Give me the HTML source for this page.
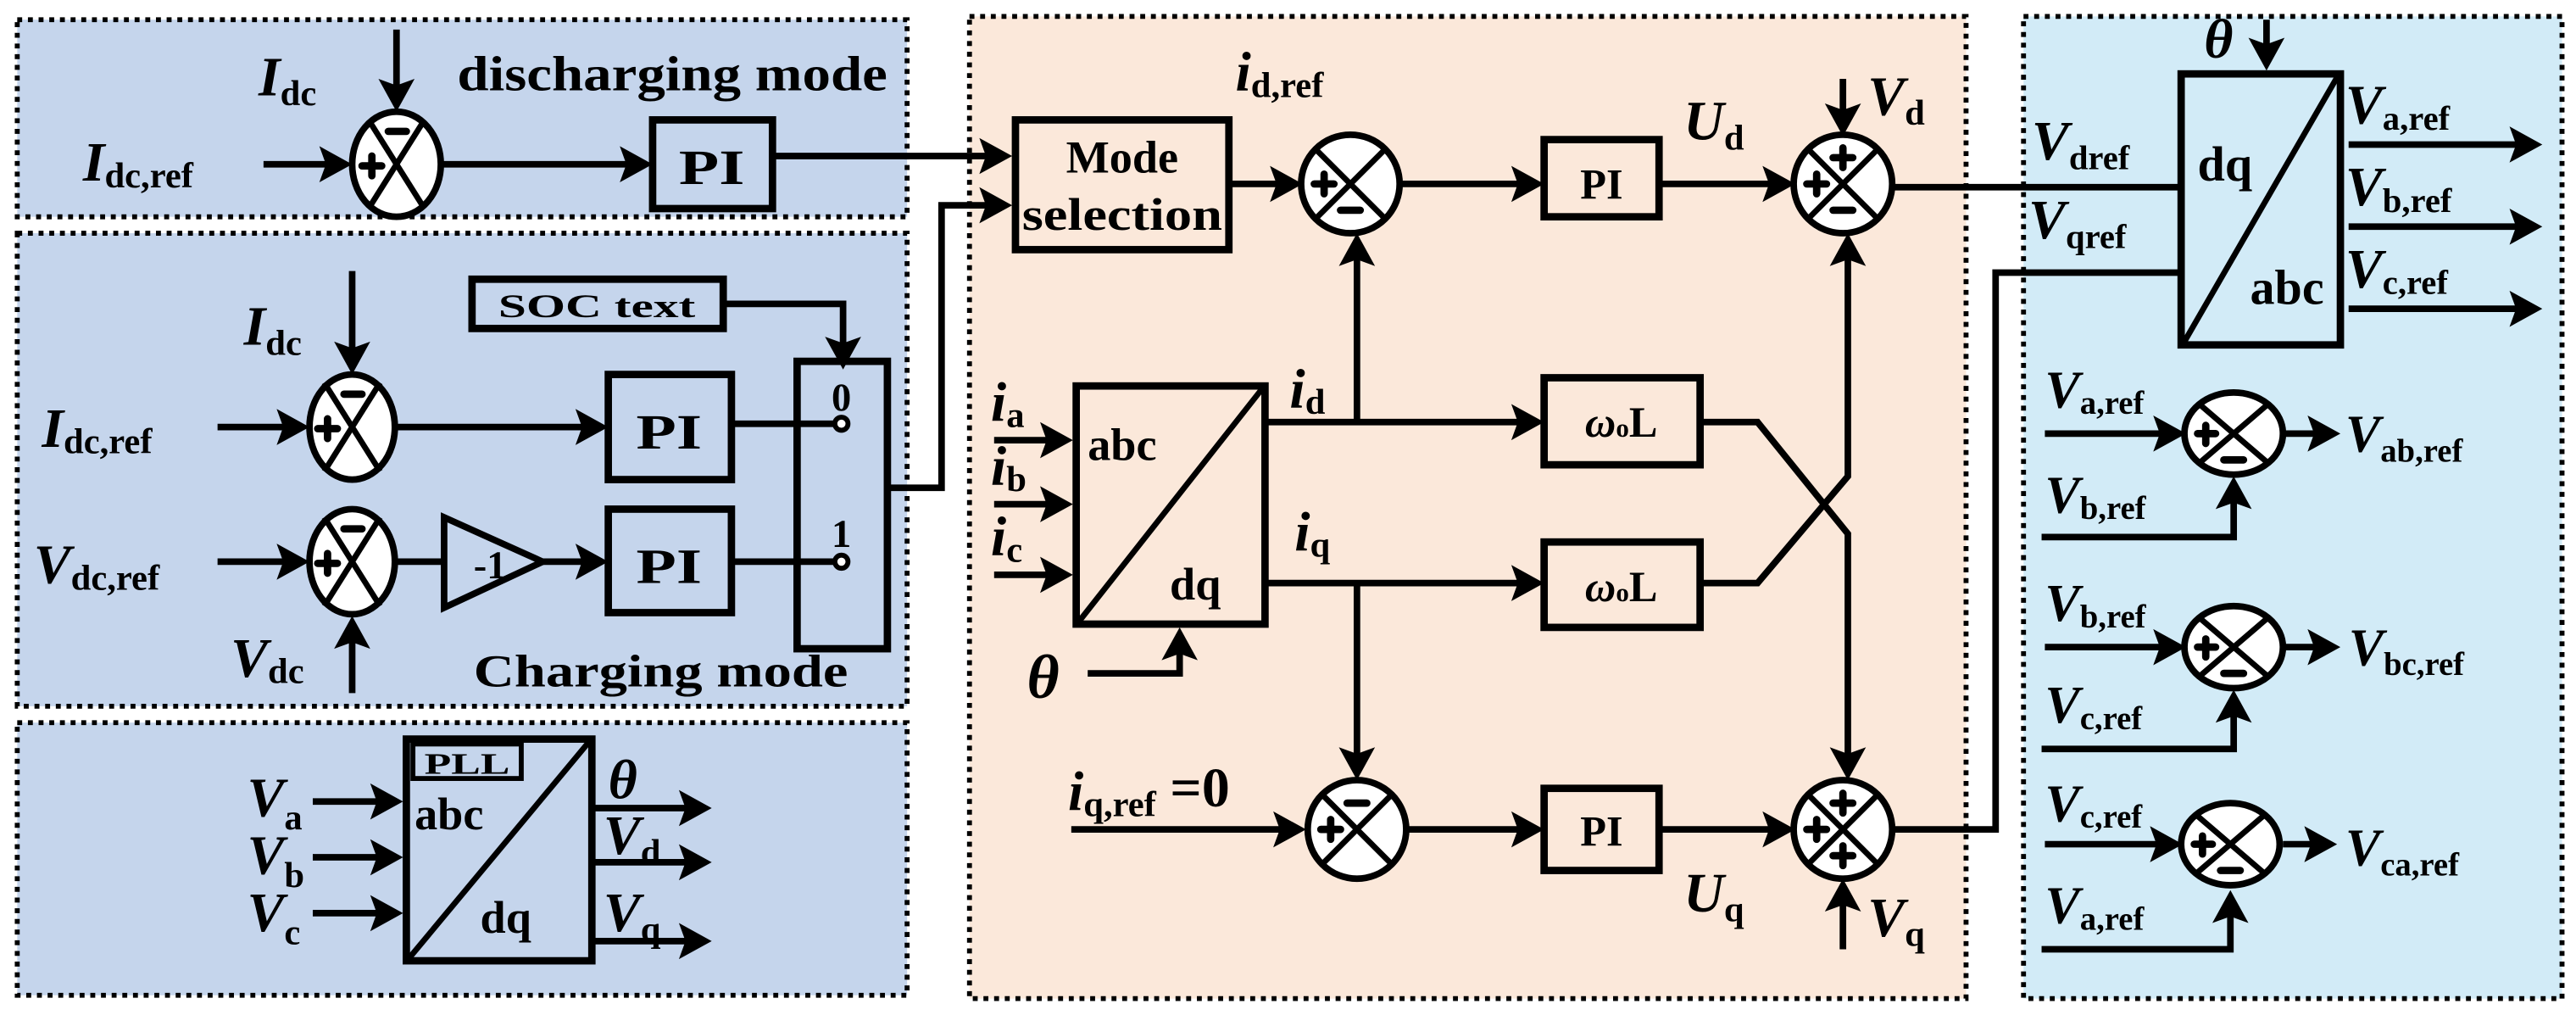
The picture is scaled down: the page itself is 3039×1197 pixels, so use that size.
<!DOCTYPE html>
<html><head><meta charset="utf-8"><style>
html,body{margin:0;padding:0;background:#fff}
svg{display:block}
text{font-family:"Liberation Serif","Times New Roman","Nimbus Roman",serif;font-weight:bold;fill:#000}
.i{font-style:italic}
</style></head><body>
<svg width="3039" height="1197" viewBox="0 0 1568 618" xmlns="http://www.w3.org/2000/svg">
<style>
.ln{stroke:#000;stroke-width:4;fill:none}
.bx{stroke:#000;stroke-width:4.5;fill:none}
.pn{stroke:#000;stroke-width:3;stroke-dasharray:3 3.5}
.sg{stroke:#000;stroke-width:4.5;fill:none;stroke-linecap:round}
</style>
<!-- panels -->
<rect x="10" y="12" width="542" height="120" fill="#c5d5ec" class="pn"/>
<rect x="10" y="142" width="542" height="288" fill="#c5d5ec" class="pn"/>
<rect x="10" y="440" width="542" height="166" fill="#c5d5ec" class="pn"/>
<rect x="590" y="10" width="607" height="598" fill="#fbe8da" class="pn"/>
<rect x="1232" y="10" width="328" height="598" fill="#d2ebf7" class="pn"/>

<!-- ===== Panel 1 ===== -->
<text x="50" y="110" font-size="34" class="i">I<tspan font-style="normal" font-size="22" dy="4">dc,ref</tspan></text>
<line x1="160" y1="100" x2="200" y2="100" class="ln"/><polygon points="214,100 194,89 198,100 194,111"/>
<text x="157" y="58" font-size="34" class="i">I<tspan font-style="normal" font-size="22" dy="6">dc</tspan></text>
<line x1="241" y1="18" x2="241" y2="55" class="ln"/><polygon points="241,68 230,48 241,52 252,48"/>
<text x="278" y="55" font-size="30" textLength="262" lengthAdjust="spacingAndGlyphs">discharging mode</text>
<line x1="268" y1="100" x2="385" y2="100" class="ln"/><polygon points="397,100 377,89 381,100 377,111"/>
<rect x="397" y="73" width="73" height="54" fill="none" class="bx"/>
<text x="433" y="112" font-size="30" text-anchor="middle" textLength="40" lengthAdjust="spacingAndGlyphs">PI</text>
<line x1="470" y1="95" x2="604" y2="95" class="ln"/><polygon points="616,95 596,84 600,95 596,106"/>

<!-- ===== Panel 2 ===== -->
<text x="25" y="272" font-size="34" class="i">I<tspan font-style="normal" font-size="22" dy="4">dc,ref</tspan></text>
<line x1="132" y1="260" x2="175" y2="260" class="ln"/><polygon points="188,260 168,249 172,260 168,271"/>
<text x="148" y="210" font-size="34" class="i">I<tspan font-style="normal" font-size="22" dy="6">dc</tspan></text>
<line x1="214" y1="165" x2="214" y2="215" class="ln"/><polygon points="214,228 203,208 214,212 225,208"/>
<line x1="240" y1="260" x2="357" y2="260" class="ln"/><polygon points="370,260 350,249 354,260 350,271"/>
<rect x="370" y="228" width="75" height="64" fill="none" class="bx"/>
<text x="407" y="273" font-size="30" text-anchor="middle" textLength="40" lengthAdjust="spacingAndGlyphs">PI</text>
<rect x="287" y="170" width="153" height="30" fill="none" class="bx"/>
<text x="363" y="193" font-size="20" text-anchor="middle" textLength="120" lengthAdjust="spacingAndGlyphs">SOC text</text>
<polyline points="440,185 513,185 513,212" class="ln"/><polygon points="513,225 502,205 513,209 524,205"/>
<rect x="485" y="220" width="55" height="175" fill="none" class="bx"/>
<text x="512" y="250" font-size="24" text-anchor="middle">0</text>
<line x1="445" y1="258" x2="508" y2="258" class="ln"/><circle cx="512" cy="258" r="4" fill="#fff" stroke="#000" stroke-width="3"/>
<text x="512" y="333" font-size="24" text-anchor="middle">1</text>
<line x1="445" y1="342" x2="508" y2="342" class="ln"/><circle cx="512" cy="342" r="4" fill="#fff" stroke="#000" stroke-width="3"/>
<polyline points="540,297 573,297 573,125 604,125" class="ln"/><polygon points="616,125 596,114 600,125 596,136"/>

<text x="20" y="355" font-size="34" class="i">V<tspan font-style="normal" font-size="22" dy="4">dc,ref</tspan></text>
<line x1="132" y1="342" x2="175" y2="342" class="ln"/><polygon points="188,342 168,331 172,342 168,353"/>
<text x="140" y="412" font-size="34" class="i">V<tspan font-style="normal" font-size="22" dy="4">dc</tspan></text>
<line x1="214" y1="422" x2="214" y2="388" class="ln"/><polygon points="214,375 203,395 214,391 225,395"/>
<line x1="240" y1="342" x2="270" y2="342" class="ln"/>
<polygon points="270,315 270,370 330,342" fill="none" stroke="#000" stroke-width="4"/>
<text x="288" y="352" font-size="24">-1</text>
<line x1="330" y1="342" x2="357" y2="342" class="ln"/><polygon points="370,342 350,331 354,342 350,353"/>
<rect x="370" y="310" width="75" height="63" fill="none" class="bx"/>
<text x="407" y="355" font-size="30" text-anchor="middle" textLength="40" lengthAdjust="spacingAndGlyphs">PI</text>
<text x="288" y="418" font-size="28" textLength="228" lengthAdjust="spacingAndGlyphs">Charging mode</text>

<!-- ===== Panel 3 PLL ===== -->
<rect x="247" y="450" width="113" height="135" fill="none" class="bx"/>
<rect x="251" y="453" width="66" height="21" fill="none" stroke="#000" stroke-width="3"/>
<text x="284" y="471" font-size="18" text-anchor="middle" textLength="52" lengthAdjust="spacingAndGlyphs">PLL</text>
<line x1="249" y1="583" x2="358" y2="452" stroke="#000" stroke-width="3.5"/>
<text x="252" y="505" font-size="28">abc</text>
<text x="292" y="568" font-size="28">dq</text>
<text x="150" y="497" font-size="34" class="i">V<tspan font-style="normal" font-size="22" dy="8">a</tspan></text>
<text x="150" y="532" font-size="34" class="i">V<tspan font-style="normal" font-size="22" dy="8">b</tspan></text>
<text x="150" y="567" font-size="34" class="i">V<tspan font-style="normal" font-size="22" dy="8">c</tspan></text>
<line x1="190" y1="488" x2="233" y2="488" class="ln"/><polygon points="245,488 225,477 229,488 225,499"/>
<line x1="190" y1="522" x2="233" y2="522" class="ln"/><polygon points="245,522 225,511 229,522 225,533"/>
<line x1="190" y1="556" x2="233" y2="556" class="ln"/><polygon points="245,556 225,545 229,556 225,567"/>
<line x1="360" y1="492" x2="420" y2="492" class="ln"/><polygon points="433,492 413,481 417,492 413,503"/>
<line x1="360" y1="525" x2="420" y2="525" class="ln"/><polygon points="433,525 413,514 417,525 413,536"/>
<line x1="360" y1="573" x2="420" y2="573" class="ln"/><polygon points="433,573 413,562 417,573 413,584"/>
<text x="370" y="486" font-size="34" class="i">θ</text>
<text x="367" y="520" font-size="34" class="i">V<tspan font-style="normal" font-size="22" dy="6">d</tspan></text>
<text x="367" y="567" font-size="34" class="i">V<tspan font-style="normal" font-size="22" dy="6">q</tspan></text>

<!-- ===== Center panel ===== -->
<rect x="618" y="73" width="130" height="79" fill="none" class="bx"/>
<text x="683" y="105" font-size="28" text-anchor="middle">Mode</text>
<text x="683" y="140" font-size="28" text-anchor="middle" textLength="122" lengthAdjust="spacingAndGlyphs">selection</text>
<line x1="748" y1="112" x2="780" y2="112" class="ln"/><polygon points="793,112 773,101 777,112 773,123"/>
<text x="752" y="55" font-size="34" class="i">i<tspan font-style="normal" font-size="22" dy="4">d,ref</tspan></text>
<line x1="852" y1="112" x2="927" y2="112" class="ln"/><polygon points="940,112 920,101 924,112 920,123"/>
<rect x="940" y="85" width="70" height="47" fill="none" class="bx"/>
<text x="975" y="121" font-size="26" text-anchor="middle">PI</text>
<line x1="1010" y1="112" x2="1080" y2="112" class="ln"/><polygon points="1093,112 1073,101 1077,112 1073,123"/>
<text x="1025" y="85" font-size="34" class="i">U<tspan font-style="normal" font-size="22" dy="6">d</tspan></text>
<line x1="1122" y1="48" x2="1122" y2="70" class="ln"/><polygon points="1122,83 1111,63 1122,67 1133,63"/>
<text x="1137" y="70" font-size="34" class="i">V<tspan font-style="normal" font-size="22" dy="6">d</tspan></text>
<line x1="1152" y1="114" x2="1328" y2="114" class="ln"/>

<rect x="655" y="235" width="115" height="145" fill="none" class="bx"/>
<line x1="657" y1="378" x2="768" y2="237" stroke="#000" stroke-width="3.5"/>
<text x="662" y="280" font-size="28">abc</text>
<text x="712" y="365" font-size="28">dq</text>
<text x="603" y="256" font-size="34" class="i">i<tspan font-style="normal" font-size="22" dy="4">a</tspan></text>
<text x="603" y="295" font-size="34" class="i">i<tspan font-style="normal" font-size="22" dy="4">b</tspan></text>
<text x="603" y="338" font-size="34" class="i">i<tspan font-style="normal" font-size="22" dy="4">c</tspan></text>
<line x1="605" y1="268" x2="640" y2="268" class="ln"/><polygon points="653,268 633,257 637,268 633,279"/>
<line x1="605" y1="307" x2="640" y2="307" class="ln"/><polygon points="653,307 633,296 637,307 633,318"/>
<line x1="605" y1="350" x2="640" y2="350" class="ln"/><polygon points="653,350 633,339 637,350 633,361"/>
<text x="625" y="425" font-size="38" class="i">θ</text>
<polyline points="662,410 718,410 718,395" class="ln"/><polygon points="718,382 707,402 718,398 729,402"/>
<line x1="770" y1="257" x2="927" y2="257" class="ln"/><polygon points="940,257 920,246 924,257 920,268"/>
<text x="785" y="248" font-size="34" class="i">i<tspan font-style="normal" font-size="22" dy="4">d</tspan></text>
<line x1="826" y1="257" x2="826" y2="155" class="ln"/><polygon points="826,142 815,162 826,158 837,162"/>
<line x1="770" y1="355" x2="927" y2="355" class="ln"/><polygon points="940,355 920,344 924,355 920,366"/>
<text x="788" y="335" font-size="34" class="i">i<tspan font-style="normal" font-size="22" dy="4">q</tspan></text>
<line x1="826" y1="355" x2="826" y2="462" class="ln"/><polygon points="826,475 815,455 826,459 837,455"/>
<rect x="940" y="230" width="95" height="53" fill="none" class="bx"/>
<text x="987" y="266" font-size="26" text-anchor="middle"><tspan class="i">ω</tspan><tspan font-size="16">o</tspan>L</text>
<rect x="940" y="330" width="95" height="52" fill="none" class="bx"/>
<text x="987" y="366" font-size="26" text-anchor="middle"><tspan class="i">ω</tspan><tspan font-size="16">o</tspan>L</text>
<polyline points="1035,257 1070,257 1125,325 1125,462" class="ln"/><polygon points="1125,475 1114,455 1125,459 1136,455"/>
<polyline points="1035,355 1070,355 1125,290 1125,155" class="ln"/><polygon points="1125,142 1114,162 1125,158 1136,162"/>

<text x="650" y="493" font-size="34" class="i">i<tspan font-style="normal" font-size="22" dy="4">q,ref</tspan><tspan font-style="normal" font-size="34" dy="-6"> =0</tspan></text>
<line x1="652" y1="505" x2="782" y2="505" class="ln"/><polygon points="795,505 775,494 779,505 775,516"/>
<line x1="856" y1="505" x2="927" y2="505" class="ln"/><polygon points="940,505 920,494 924,505 920,516"/>
<rect x="940" y="480" width="70" height="50" fill="none" class="bx"/>
<text x="975" y="515" font-size="26" text-anchor="middle">PI</text>
<line x1="1010" y1="505" x2="1080" y2="505" class="ln"/><polygon points="1093,505 1073,494 1077,505 1073,516"/>
<text x="1025" y="555" font-size="34" class="i">U<tspan font-style="normal" font-size="22" dy="6">q</tspan></text>
<line x1="1122" y1="578" x2="1122" y2="548" class="ln"/><polygon points="1122,535 1111,555 1122,551 1133,555"/>
<text x="1137" y="570" font-size="34" class="i">V<tspan font-style="normal" font-size="22" dy="6">q</tspan></text>
<polyline points="1152,505 1215,505 1215,166 1328,166" class="ln"/>

<!-- ===== Right panel ===== -->
<rect x="1328" y="45" width="97" height="165" fill="none" class="bx"/>
<line x1="1330" y1="208" x2="1423" y2="47" stroke="#000" stroke-width="3.5"/>
<text x="1338" y="110" font-size="30">dq</text>
<text x="1370" y="185" font-size="30">abc</text>
<text x="1342" y="35" font-size="34" class="i">θ</text>
<line x1="1380" y1="12" x2="1380" y2="30" class="ln"/><polygon points="1380,43 1369,23 1380,27 1391,23"/>
<text x="1237" y="97" font-size="34" class="i">V<tspan font-style="normal" font-size="21" dy="6">dref</tspan></text>
<text x="1235" y="145" font-size="34" class="i">V<tspan font-style="normal" font-size="21" dy="6">qref</tspan></text>
<text x="1428" y="75" font-size="34" class="i">V<tspan font-style="normal" font-size="21" dy="4">a,ref</tspan></text>
<text x="1428" y="125" font-size="34" class="i">V<tspan font-style="normal" font-size="21" dy="4">b,ref</tspan></text>
<text x="1428" y="175" font-size="34" class="i">V<tspan font-style="normal" font-size="21" dy="4">c,ref</tspan></text>
<line x1="1430" y1="88" x2="1535" y2="88" class="ln"/><polygon points="1548,88 1528,77 1532,88 1528,99"/>
<line x1="1430" y1="138" x2="1535" y2="138" class="ln"/><polygon points="1548,138 1528,127 1532,138 1528,149"/>
<line x1="1430" y1="188" x2="1535" y2="188" class="ln"/><polygon points="1548,188 1528,177 1532,188 1528,199"/>

<g>
<text x="1245" y="248" font-size="32" class="i">V<tspan font-style="normal" font-size="20" dy="4">a,ref</tspan></text>
<line x1="1245" y1="264" x2="1318" y2="264" class="ln"/><polygon points="1331,264 1311,253 1315,264 1311,275"/>
<text x="1245" y="312" font-size="32" class="i">V<tspan font-style="normal" font-size="20" dy="4">b,ref</tspan></text>
<polyline points="1243,327 1360,327 1360,303" class="ln"/><polygon points="1360,290 1349,310 1360,306 1371,310"/>
<line x1="1390" y1="264" x2="1412" y2="264" class="ln"/><polygon points="1425,264 1405,253 1409,264 1405,275"/>
<text x="1428" y="275" font-size="32" class="i">V<tspan font-style="normal" font-size="20" dy="6">ab,ref</tspan></text>
</g>
<g>
<text x="1245" y="378" font-size="32" class="i">V<tspan font-style="normal" font-size="20" dy="4">b,ref</tspan></text>
<line x1="1245" y1="394" x2="1318" y2="394" class="ln"/><polygon points="1331,394 1311,383 1315,394 1311,405"/>
<text x="1245" y="440" font-size="32" class="i">V<tspan font-style="normal" font-size="20" dy="4">c,ref</tspan></text>
<polyline points="1243,456 1360,456 1360,433" class="ln"/><polygon points="1360,420 1349,440 1360,436 1371,440"/>
<line x1="1390" y1="394" x2="1412" y2="394" class="ln"/><polygon points="1425,394 1405,383 1409,394 1405,405"/>
<text x="1430" y="405" font-size="32" class="i">V<tspan font-style="normal" font-size="20" dy="6">bc,ref</tspan></text>
</g>
<g>
<text x="1245" y="500" font-size="32" class="i">V<tspan font-style="normal" font-size="20" dy="4">c,ref</tspan></text>
<line x1="1245" y1="514" x2="1316" y2="514" class="ln"/><polygon points="1329,514 1309,503 1313,514 1309,525"/>
<text x="1245" y="562" font-size="32" class="i">V<tspan font-style="normal" font-size="20" dy="4">a,ref</tspan></text>
<polyline points="1243,578 1358,578 1358,555" class="ln"/><polygon points="1358,542 1347,562 1358,558 1369,562"/>
<line x1="1390" y1="514" x2="1410" y2="514" class="ln"/><polygon points="1423,514 1403,503 1407,514 1403,525"/>
<text x="1428" y="527" font-size="32" class="i">V<tspan font-style="normal" font-size="20" dy="6">ca,ref</tspan></text>
</g>

<!-- summing junctions -->
<g stroke="#000" stroke-width="4" fill="#fff">
<ellipse cx="241" cy="100" rx="27" ry="32"/>
<ellipse cx="214" cy="260" rx="26" ry="32"/>
<ellipse cx="214" cy="342" rx="26" ry="32"/>
<ellipse cx="822" cy="112" rx="30" ry="30"/>
<ellipse cx="1122" cy="112" rx="30" ry="30"/>
<ellipse cx="826" cy="505" rx="30" ry="30"/>
<ellipse cx="1122" cy="505" rx="30" ry="30"/>
<ellipse cx="1360" cy="264" rx="30" ry="25"/>
<ellipse cx="1360" cy="394" rx="30" ry="25"/>
<ellipse cx="1358" cy="514" rx="30" ry="25"/>
</g>
<g stroke="#000" stroke-width="3.5">
<line x1="224" y1="73" x2="258" y2="127"/><line x1="258" y1="73" x2="224" y2="127"/>
<line x1="197" y1="233" x2="231" y2="287"/><line x1="231" y1="233" x2="197" y2="287"/>
<line x1="197" y1="315" x2="231" y2="369"/><line x1="231" y1="315" x2="197" y2="369"/>
<line x1="801" y1="91" x2="843" y2="133"/><line x1="843" y1="91" x2="801" y2="133"/>
<line x1="1101" y1="91" x2="1143" y2="133"/><line x1="1143" y1="91" x2="1101" y2="133"/>
<line x1="805" y1="484" x2="847" y2="526"/><line x1="847" y1="484" x2="805" y2="526"/>
<line x1="1101" y1="484" x2="1143" y2="526"/><line x1="1143" y1="484" x2="1101" y2="526"/>
<line x1="1339" y1="246" x2="1381" y2="282"/><line x1="1381" y1="246" x2="1339" y2="282"/>
<line x1="1339" y1="376" x2="1381" y2="412"/><line x1="1381" y1="376" x2="1339" y2="412"/>
<line x1="1337" y1="496" x2="1379" y2="532"/><line x1="1379" y1="496" x2="1337" y2="532"/>
</g>
<!-- signs drawn as strokes -->
<path class="sg" d="
M220 101h12M226 95v12  M236 80h11
M193 261h12M199 255v12  M209 240h11
M193 343h12M199 337v12  M209 322h11
M800 112h12M806 106v12  M816 128h12
M1100 112h12M1106 106v12  M1116 96h12M1122 90v12  M1116 128h12
M804 505h12M810 499v12  M820 489h12
M1100 505h12M1106 499v12  M1116 489h12M1122 483v12  M1116 521h12M1122 515v12
M1338 264h11M1343 259v11  M1354 280h12
M1338 394h11M1343 389v11  M1354 410h12
M1336 514h11M1341 509v11  M1352 530h12"/>
</svg>
</body></html>
